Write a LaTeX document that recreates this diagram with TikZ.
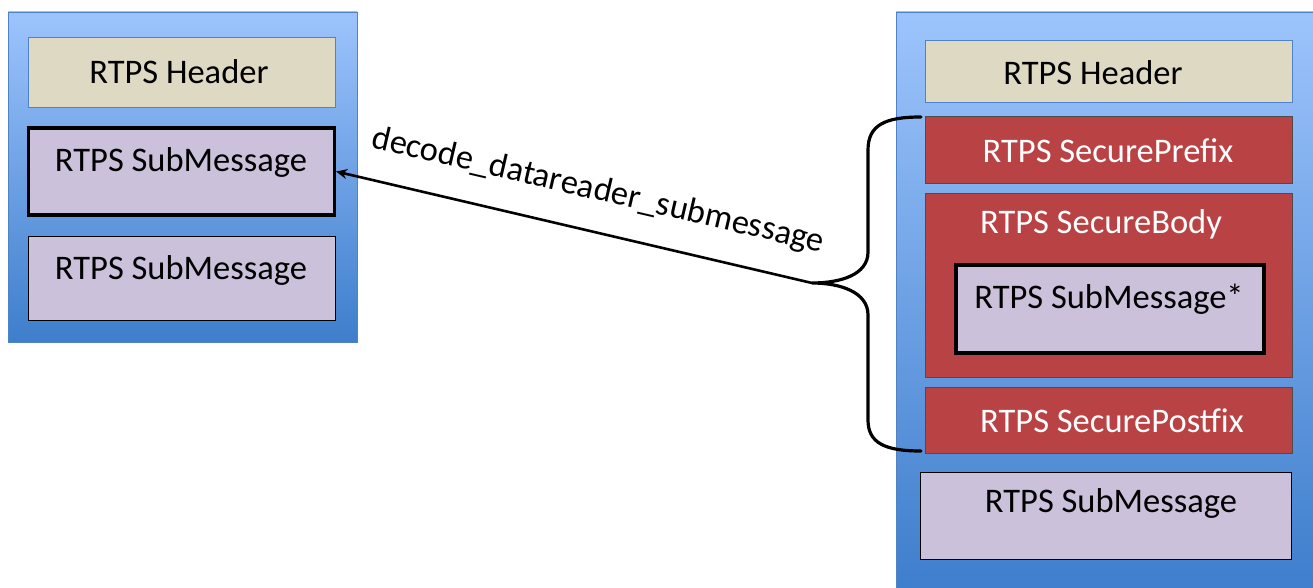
\documentclass[tikz,border=0pt]{standalone}
\usepackage{fontspec}
\setmainfont{Carlito}
\usetikzlibrary{arrows.meta}
\definecolor{panelTop}{RGB}{157,196,252}
\definecolor{panelBot}{RGB}{62,126,204}
\definecolor{panelEdge}{RGB}{80,130,200}
\definecolor{hdrFill}{RGB}{221,217,195}
\definecolor{subFill}{RGB}{204,193,218}
\definecolor{secFill}{RGB}{185,66,68}
\tikzset{
  panel/.style={draw=panelEdge, line width=0.8pt, top color=panelTop, bottom color=panelBot, rectangle, inner sep=0pt},
  hdrbox/.style={draw=panelEdge, line width=0.8pt, fill=hdrFill, rectangle, inner sep=0pt},
  subbox/.style={draw=black, line width=0.8pt, fill=subFill, rectangle, inner sep=0pt},
  thicksub/.style={draw=black, line width=3.2pt, fill=subFill, rectangle, inner sep=0pt},
  secbox/.style={draw=black!70, line width=0.8pt, fill=secFill, rectangle, inner sep=0pt},
  lbl/.style={font=\fontsize{34.5}{40}\selectfont, text=black, inner sep=0pt},
  wlbl/.style={lbl, text=white},
}
\begin{document}
\begin{tikzpicture}[x=1pt,y=-1pt]
\useasboundingbox (0,0) rectangle (1313,588);
% left panel
\node[panel, minimum width=349pt, minimum height=330pt] (lp) at (182.5,177) {};
\node[hdrbox, minimum width=307pt, minimum height=70pt] (lh) at (181.5,72) {};
\node[lbl] (lht) at (179,72) {RTPS Header};
\node[thicksub, minimum width=306pt, minimum height=87pt] (ls1) at (181.5,171.5) {};
\node[lbl] (ls1t) at (181,162) {RTPS SubMessage};
\node[subbox, minimum width=307pt, minimum height=84pt] (ls2) at (181.5,278) {};
\node[lbl] (ls2t) at (181,270) {RTPS SubMessage};
% right panel
\node[panel, minimum width=420pt, minimum height=578pt] (rp) at (1106,301) {};
\node[hdrbox, minimum width=367pt, minimum height=62pt] (rh) at (1108.5,71) {};
\node[lbl] (rht) at (1093,73) {RTPS Header};
\node[secbox, minimum width=367pt, minimum height=67pt] (rpre) at (1108.5,149.5) {};
\node[wlbl] (rpret) at (1108,151) {RTPS SecurePrefix};
\node[secbox, minimum width=367pt, minimum height=184pt] (rbody) at (1108.5,285) {};
\node[wlbl] (rbodyt) at (1101,224) {RTPS SecureBody};
\node[thicksub, minimum width=308pt, minimum height=88pt] (rinner) at (1110,309) {};
\node[lbl] (rinnert) at (1109,299) {RTPS SubMessage*};
\node[secbox, minimum width=367pt, minimum height=66pt] (rpost) at (1108.5,420) {};
\node[wlbl] (rpostt) at (1112,421) {RTPS SecurePostfix};
\node[subbox, minimum width=371pt, minimum height=87pt] (rsub) at (1105.5,515.5) {};
\node[lbl] (rsubt) at (1111,503) {RTPS SubMessage};
% brace
\coordinate (btop) at (921,117);
\coordinate (btip) at (812,283);
\coordinate (bbot) at (921,451);
\draw[line width=3.2pt, line cap=round] (btop) .. controls (885,117) and (868,125) .. (868,150)
  -- (868,252) .. controls (868,275) and (840,283) .. (btip)
  .. controls (840,283) and (868,292) .. (868,315)
  -- (868,420) .. controls (868,443) and (885,451) .. (bbot);
% arrow
\draw[line width=2.6pt, -{Stealth[length=11pt,width=10pt]}] (btip) -- (ls1.east);
\node[lbl, rotate=-13.1] (alab) at (598,191) {decode\_datareader\_submessage};
\end{tikzpicture}
\end{document}
